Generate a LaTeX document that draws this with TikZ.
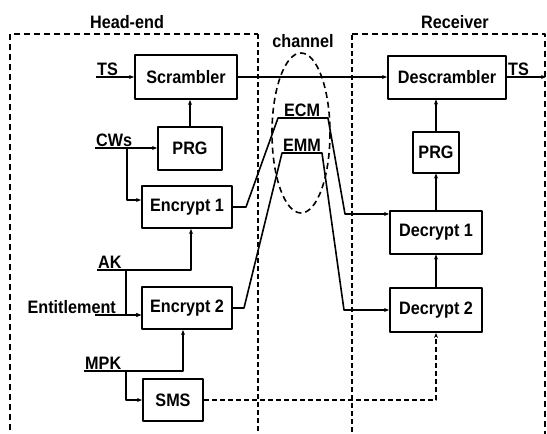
\documentclass[tikz,border=0pt]{standalone}
\usepackage{fontspec}
\setmainfont{Liberation Sans}[FakeStretch=0.9]
\usetikzlibrary{arrows.meta,calc}

\begin{document}
\begin{tikzpicture}[x=1pt, y=-1pt, >={Stealth[length=5pt,width=4pt]}, line join=round,
  blk/.style={draw, line width=2pt, inner sep=0pt, font=\fontsize{18}{20}\selectfont\bfseries},
  lbl/.style={inner sep=1pt, font=\fontsize{18}{20}\selectfont\bfseries},
  conn/.style={line width=1.6pt},
  frame/.style={line width=1.8pt, dash pattern=on 6pt off 4pt}]
  \useasboundingbox (0,0) rectangle (547,434);
  % frames
  \draw[frame] (10,440) -- (10,34) -- (258,34);
  \draw[frame, line width=2.8pt, dash pattern=on 5pt off 3pt] (258,34) -- (258,440);
  \draw[frame, line width=2.8pt, dash pattern=on 5pt off 3pt] (352,440) -- (352,34);
  \draw[frame] (352,34) -- (545,34) -- (545,440);
  \draw[frame, line width=1.6pt] (301,133) ellipse [x radius=29, y radius=80];
  % head-end
  \node[blk, minimum width=102pt, minimum height=44pt] (scr) at (186,77) {Scrambler};
  \node[blk, minimum width=64pt, minimum height=43pt] (prgA) at (190,148) {PRG};
  \node[blk, minimum width=90pt, minimum height=42pt] (enc1) at (187,207) {Encrypt 1};
  \node[blk, minimum width=90pt, minimum height=42pt] (enc2) at (187,308) {Encrypt 2};
  \node[blk, minimum width=60pt, minimum height=42pt] (sms) at (173,400) {SMS};
  % receiver
  \node[blk, minimum width=118pt, minimum height=43pt] (dscr) at (447,77) {Descrambler};
  \node[blk, minimum width=46pt, minimum height=41pt] (prgB) at (436,152) {PRG};
  \node[blk, minimum width=92pt, minimum height=43pt] (dec1) at (436,232) {Decrypt 1};
  \node[blk, minimum width=92pt, minimum height=44pt] (dec2) at (436,310) {Decrypt 2};
  % labels
  \node[lbl] (head) at (127,22) {Head-end};
  \node[lbl] (recv) at (455,22) {Receiver};
  \node[lbl] (chan) at (303,41) {channel};
  \node[lbl, above right] (tsA) at (96,77) {TS};
  \node[lbl, above right] (cws) at (95,148) {CWs};
  \node[lbl, above right] (ak) at (97,270) {AK};
  \node[lbl, anchor=south east] (ent) at (117,315) {Entitlement};
  \node[lbl, above right] (mpk) at (84,371) {MPK};
  \node[lbl, above right] (tsB) at (dscr.east) {TS};
  \node[lbl, above] (ecm) at (302,118) {ECM};
  \node[lbl, above] (emm) at (302,153) {EMM};
  \coordinate (jcws) at (127,148);
  \coordinate (jak) at (126,270);
  \coordinate (jmpk) at (126,371);
  \coordinate (e2in) at ($(enc2.west)+(0,7)$);
  \coordinate (tsend) at (546,77);
  \coordinate (ecmR) at (345,214);
  % head-end connectors
  \draw[conn,->] (tsA.south west) -- (scr.west |- tsA.south west);
  \draw[conn,->] (prgA.north) -- (prgA.north |- scr.south);
  \draw[conn,->] (cws.south west) -- (prgA.west |- cws.south west);
  \draw[conn,->] (jcws) |- ($(enc1.west)+(0,-7)$);
  \draw[conn,->] (ak.south west) -| ($(enc1.south)+(4,0)$);
  \draw[conn,->] (jak) |- (e2in);
  \draw[conn,->] ($(ent.south east)+(-22,0)$) -- (e2in);
  \draw[conn,->] (mpk.south west) -| ($(enc2.south)+(-4,0)$);
  \draw[conn,->] (jmpk) |- (sms.west);
  % channel
  \draw[conn,->] (scr.east) -- (dscr.west);
  \draw[conn,->] (enc1.east) -- ++(13,0) -- (278,118) -- (328,118) -- (ecmR) -- (ecmR -| dec1.west);
  \draw[conn,->] (enc2.east) -- ++(11,0) -- (282,153) -- (322,153) -- (344,310) -- (dec2.west);
  \draw[conn, dash pattern=on 5pt off 3pt,->] (sms.east) -| (dec2.south);
  % receiver connectors
  \draw[conn,->] (dscr.east) -- (tsend);
  \draw[conn,->] (prgB.north) -- (prgB.north |- dscr.south);
  \draw[conn,->] (dec1.north) -- (prgB.south);
  \draw[conn,->] (dec2.north) -- (dec1.south);
\end{tikzpicture}
\end{document}
